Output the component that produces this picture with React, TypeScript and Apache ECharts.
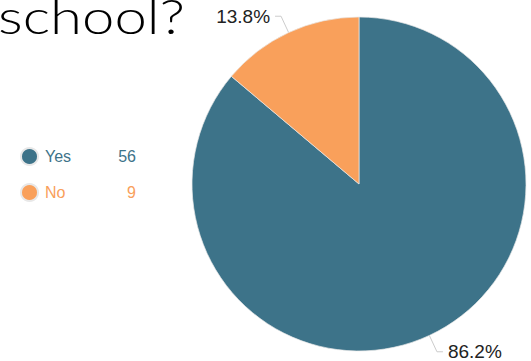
import React, { useEffect, useRef } from "react";
import * as echarts from "echarts";

const categories = ["Yes", "No"];
const values = [56, 9];
const colors = ["#3d7389", "#f9a05b"];
const titleText = "school?";

export default function App() {
  const ref = useRef<HTMLDivElement>(null);
  useEffect(() => {
    document.body.style.margin = "0";
    const chart = echarts.init(ref.current!, null, { renderer: "svg" });
    const valueMap: Record<string, number> = {};
    categories.forEach((c, i) => (valueMap[c] = values[i]));
    chart.setOption({
      animation: false,
      backgroundColor: "#ffffff",
      graphic: [
        {
          type: "text",
          x: -2,
          y: -9,
          scaleX: 1.21,
          style: {
            text: titleText,
            fontFamily: "Lato",
            fontWeight: 300,
            fontSize: 48,
            fill: "#000000",
          },
        },
      ],
      legend: {
        orient: "vertical",
        left: 15,
        top: 142,
        icon: "circle",
        itemWidth: 17,
        itemHeight: 17,
        itemGap: 17,
        selectedMode: false,
        data: categories.map((c, i) => ({
          name: c,
          textStyle: { color: colors[i] },
        })),
        formatter: (name: string) => `{n|${name}}{v|${valueMap[name]}}`,
        textStyle: {
          fontFamily: "Liberation Sans",
          fontSize: 16,
          rich: {
            n: { width: 64, fontSize: 16, fontFamily: "Liberation Sans", padding: [0, 0, 0, 2] },
            v: { width: 27, align: "right", fontSize: 16, fontFamily: "Liberation Sans" },
          },
        },
      },
      series: [
        {
          type: "pie",
          center: [359, 184],
          radius: 167,
          startAngle: 90,
          clockwise: true,
          percentPrecision: 1,
          data: categories.map((c, i) => ({
            name: c,
            value: values[i],
            itemStyle: { color: colors[i] },
          })),
          itemStyle: { borderColor: "#e8e8e8", borderWidth: 0.7 },
          label: {
            formatter: "{d}%",
            color: "#222222",
            fontSize: 19,
            fontFamily: "Liberation Sans",
          },
          labelLine: {
            length: 18,
            length2: 6,
            lineStyle: { color: "#cccccc", width: 1 },
          },
          emphasis: { disabled: true },
        },
      ],
    });
    return () => chart.dispose();
  }, []);
  return (
    <div
      ref={ref}
      style={{ position: "fixed", left: 0, top: 0, width: 531, height: 361 }}
    />
  );
}
